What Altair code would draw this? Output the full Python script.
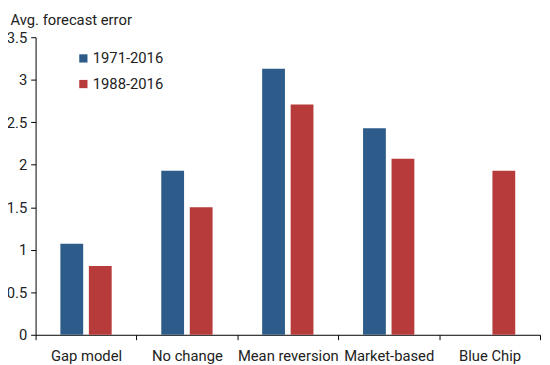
import altair as alt
import pandas as pd

categories = ["Gap model", "No change", "Mean reversion", "Market-based", "Blue Chip"]
series = ["1971-2016", "1988-2016"]
vals_1971 = [1.07, 1.93, 3.13, 2.43, None]
vals_1988 = [0.81, 1.50, 2.71, 2.07, 1.93]
colors = ["#2e5c8a", "#b73b3b"]

rows = []
for c, a, b in zip(categories, vals_1971, vals_1988):
    if a is not None:
        rows.append({"cat": c, "series": series[0], "value": a})
    if b is not None:
        rows.append({"cat": c, "series": series[1], "value": b})
df = pd.DataFrame(rows)

FONT = "Roboto"
FS = 15

chart = alt.Chart(df).mark_bar().encode(
    x=alt.X("cat:N", sort=categories,
            scale=alt.Scale(domain=categories, paddingInner=0, paddingOuter=0),
            axis=alt.Axis(title=None, labelAngle=0, tickBand="extent", tickSize=5,
                          domainColor="#000", tickColor="#000", labelFontSize=FS,
                          labelColor="#222", labelFont=FONT, labelPadding=9)),
    xOffset=alt.XOffset("series:N", scale=alt.Scale(domain=series, paddingInner=0.2, paddingOuter=0.87)),
    y=alt.Y("value:Q", scale=alt.Scale(domain=[0, 3.5], nice=False),
            axis=alt.Axis(values=[0, 0.5, 1, 1.5, 2, 2.5, 3, 3.5], grid=False,
                          labelExpr="datum.value", tickSize=5, domainColor="#000",
                          tickColor="#000", labelFontSize=FS, labelColor="#222",
                          labelFont=FONT, labelPadding=4,
                          title="Avg. forecast error", titleAngle=0, titleAlign="left",
                          titleBaseline="alphabetic",
                          titleX=-26, titleY=-13, titleFontSize=FS, titleFont=FONT,
                          titleFontWeight="normal", titleColor="#222")),
    color=alt.Color("series:N", scale=alt.Scale(domain=series, range=colors),
                    legend=alt.Legend(title=None, orient="none", legendX=41, legendY=14,
                                      symbolType="square", symbolSize=70,
                                      symbolStrokeWidth=0, labelFontSize=FS,
                                      labelFont=FONT, labelColor="#222",
                                      rowPadding=10, labelOffset=2)),
).properties(
    width=512, height=302,
    autosize=alt.AutoSizeParams(type="none"),
    padding={"left": 28, "top": 27, "right": 2, "bottom": 28},
).configure_view(stroke=None)

chart.save("out.html", embed_options={"renderer": "svg", "actions": False})
